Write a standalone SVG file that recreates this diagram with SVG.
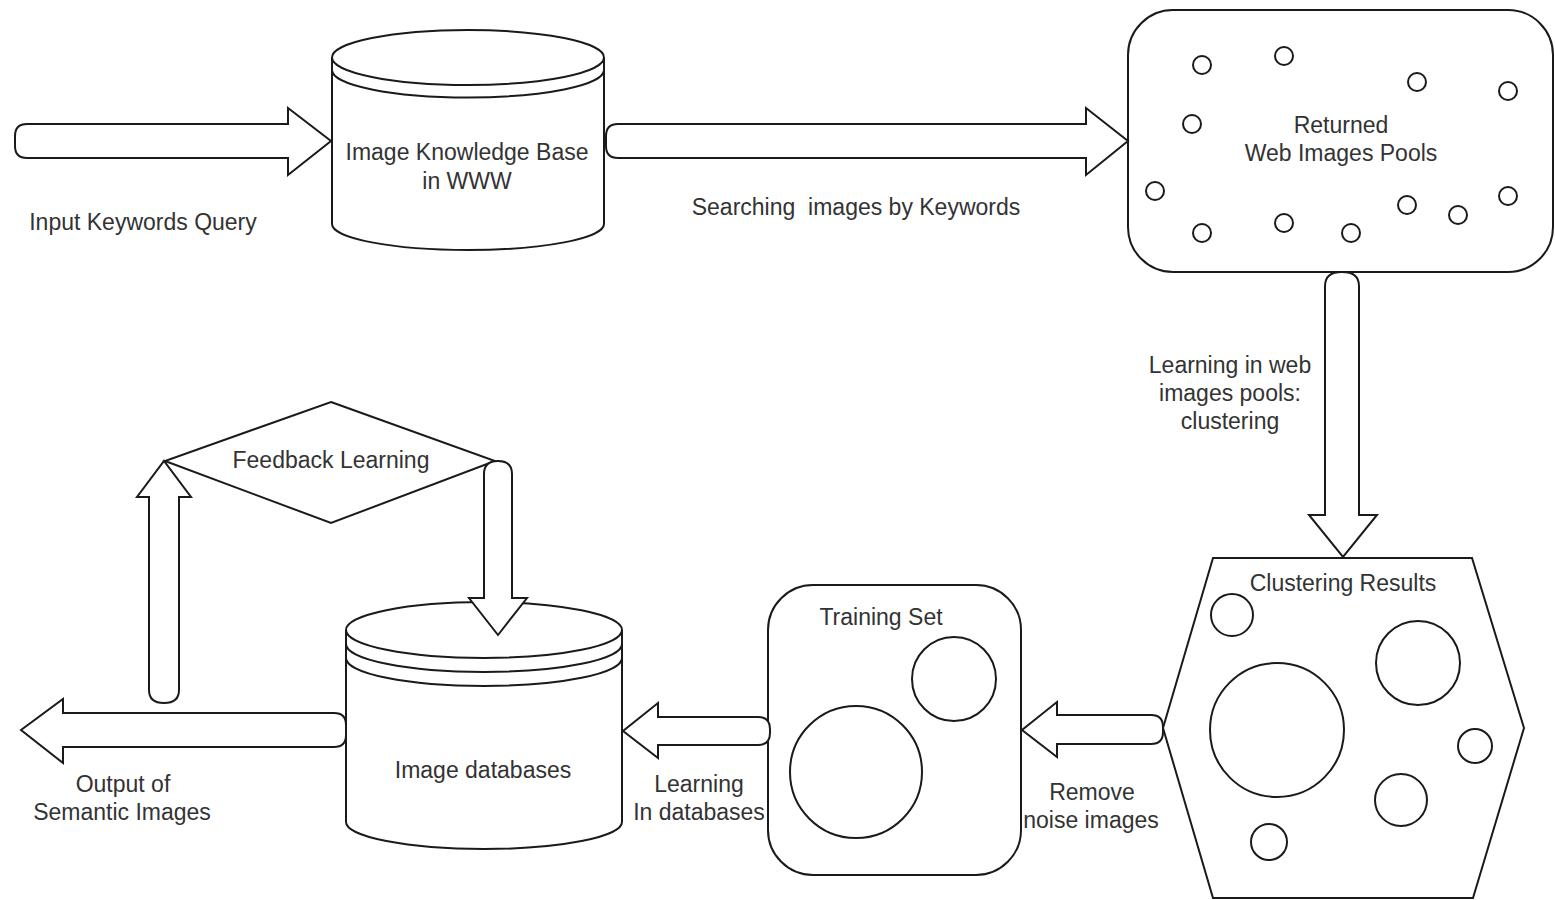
<svg xmlns="http://www.w3.org/2000/svg" width="1555" height="900" viewBox="0 0 1555 900">
<style>
.s{fill:#fff;stroke:#1a1a1a;stroke-width:2;stroke-linejoin:miter}
.n{fill:none;stroke:#1a1a1a;stroke-width:2}
.c{fill:none;stroke:#1a1a1a;stroke-width:2}
.t{font-family:"Liberation Sans",Arial,sans-serif;font-size:23px;fill:#333;text-anchor:middle}
</style>
<rect x="0" y="0" width="1555" height="900" fill="#fff"/>

<g id="kb">
<path class="s" d="M332,57.5 L332,224 A136,26 0 0 0 604,224 L604,57.5"/>
<ellipse class="s" cx="468" cy="57.5" rx="136" ry="27.5"/>
<path class="n" d="M332,70 A136,27.5 0 0 0 604,70"/>
<text class="t" x="467" y="160">Image Knowledge Base</text>
<text class="t" x="467" y="189">in WWW</text>
</g>

<g id="pool">
<rect class="s" x="1128" y="10" width="425" height="262" rx="45" ry="45"/>
<g class="c">
<circle cx="1202" cy="65" r="9"/>
<circle cx="1284" cy="56" r="9"/>
<circle cx="1417" cy="82" r="9"/>
<circle cx="1508" cy="91" r="9"/>
<circle cx="1192" cy="124" r="9"/>
<circle cx="1155" cy="191" r="9"/>
<circle cx="1508" cy="196" r="9"/>
<circle cx="1407" cy="205" r="9"/>
<circle cx="1458" cy="215" r="9"/>
<circle cx="1202" cy="233" r="9"/>
<circle cx="1284" cy="223" r="9"/>
<circle cx="1351" cy="233" r="9"/>
</g>
<text class="t" x="1341" y="133">Returned</text>
<text class="t" x="1341" y="161">Web Images Pools</text>
</g>

<g id="clusters">
<polygon class="s" points="1213,558 1472,558 1524,728 1473,898 1213,898 1163,728"/>
<g class="c">
<circle cx="1232" cy="615" r="21"/>
<circle cx="1277" cy="730" r="67"/>
<circle cx="1418" cy="663" r="42"/>
<circle cx="1475" cy="746" r="17"/>
<circle cx="1401" cy="800" r="26"/>
<circle cx="1269" cy="842" r="18"/>
</g>
<text class="t" x="1343" y="591">Clustering Results</text>
</g>

<g id="training">
<rect class="s" x="768" y="585" width="253" height="290" rx="45" ry="45"/>
<circle class="c" cx="954" cy="679" r="42"/>
<circle class="c" cx="856" cy="772" r="66"/>
<text class="t" x="881" y="625">Training Set</text>
</g>

<g id="db">
<path class="s" d="M346,630 L346,822 A138,27 0 0 0 622,822 L622,630"/>
<ellipse class="s" cx="484" cy="630" rx="138" ry="28"/>
<path class="n" d="M346,644 A138,28 0 0 0 622,644"/>
<path class="n" d="M346,658 A138,28 0 0 0 622,658"/>
<text class="t" x="483" y="778">Image databases</text>
</g>

<g id="feedback">
<polygon class="s" points="331,402 495,461 331,523 165,461"/>
<text class="t" x="331" y="468">Feedback Learning</text>
</g>

<g id="connectors">
<path class="s" d="M288,124 L288,108 L331,141 L288,175 L288,158 L27,158 Q15,158 15,146 L15,136 Q15,124 27,124 Z"/>
<text class="t" x="143" y="230">Input Keywords Query</text>
<path class="s" d="M1086,124 L1086,108 L1128,141 L1086,175 L1086,158 L618,158 Q606,158 606,146 L606,136 Q606,124 618,124 Z"/>
<text class="t" x="856" y="215" style="white-space:pre">Searching  images by Keywords</text>
<path class="s" d="M1359,515 L1377,515 L1343,557 L1309,515 L1325,515 L1325,286 Q1325,272 1342,272 Q1359,272 1359,286 Z"/>
<text class="t" x="1230" y="373">Learning in web</text>
<text class="t" x="1230" y="401">images pools:</text>
<text class="t" x="1230" y="429">clustering</text>
<path class="s" d="M1057,715 L1057,702 L1022,730 L1057,757 L1057,744 L1151,744 Q1163,744 1163,732 L1163,727 Q1163,715 1151,715 Z"/>
<text class="t" x="1092" y="800">Remove</text>
<text class="t" x="1091" y="828">noise images</text>
<path class="s" d="M658,717 L658,703 L623,731 L658,758 L658,745 L758,745 Q770,745 770,733 L770,729 Q770,717 758,717 Z"/>
<text class="t" x="699" y="792">Learning</text>
<text class="t" x="699" y="820">In databases</text>
<path class="s" d="M63,713 L63,699 L21,730 L63,763 L63,747 L334,747 Q346,747 346,735 L346,725 Q346,713 334,713 Z"/>
<text class="t" x="123" y="792">Output of</text>
<text class="t" x="122" y="820">Semantic Images</text>
<path class="s" d="M149,497 L137,497 L164,461 L191,497 L179,497 L179,690 Q179,703 164,703 Q149,703 149,690 Z"/>
<path class="s" d="M484,598 L469,598 L498,635 L527,598 L512,598 L512,474 Q512,461 498,461 Q484,461 484,474 Z"/>
</g>
</svg>
